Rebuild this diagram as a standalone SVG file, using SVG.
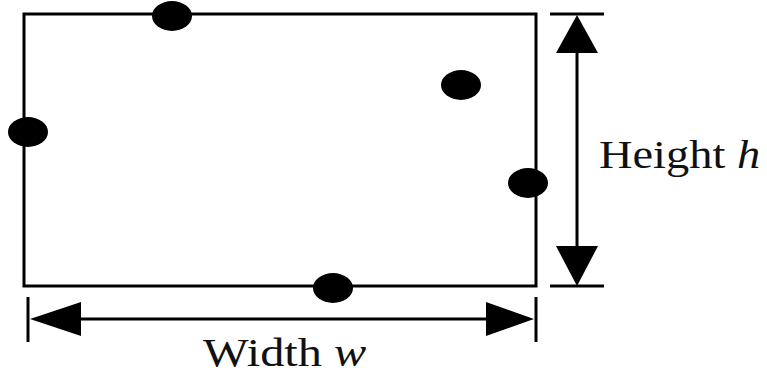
<svg xmlns="http://www.w3.org/2000/svg" width="767" height="376" viewBox="0 0 767 376">
<style>
.ln{stroke:#000;stroke-width:3;fill:none}
.dot{fill:#000}
.head{fill:#000}
.lbl{font-family:"Liberation Serif","Times New Roman",serif;font-size:39px;fill:#111}
</style>
<rect width="767" height="376" fill="#fff"/>
<g id="region">
<rect class="ln" x="24" y="14" width="512" height="272"/>
</g>
<g id="dot1"><ellipse class="dot" cx="172" cy="16" rx="20" ry="15"/></g>
<g id="dot2"><ellipse class="dot" cx="28" cy="132" rx="20" ry="15"/></g>
<g id="dot3"><ellipse class="dot" cx="461" cy="85" rx="20" ry="15"/></g>
<g id="dot4"><ellipse class="dot" cx="528" cy="183" rx="20" ry="15"/></g>
<g id="dot5"><ellipse class="dot" cx="333" cy="288" rx="20" ry="15"/></g>
<g id="connectors">
<line class="ln" x1="550" y1="14" x2="604" y2="14"/>
<line class="ln" x1="550" y1="286" x2="604" y2="286"/>
<line class="ln" x1="577" y1="50" x2="577" y2="250"/>
<polygon class="head" points="577,15 556,53 598,53"/>
<polygon class="head" points="577,286 556,246 598,246"/>
<line class="ln" x1="28" y1="297" x2="28" y2="342"/>
<line class="ln" x1="536" y1="297" x2="536" y2="342"/>
<line class="ln" x1="75" y1="319" x2="490" y2="319"/>
<polygon class="head" points="30,319 81,302 81,336"/>
<polygon class="head" points="534,319 486,302 486,336"/>
</g>
<g id="labels">
<text class="lbl" transform="translate(599,168) scale(1.19,1)">Height <tspan font-style="italic">h</tspan></text>
<text class="lbl" transform="translate(203,366) scale(1.24,1)">Width <tspan font-style="italic">w</tspan></text>
</g>
</svg>
